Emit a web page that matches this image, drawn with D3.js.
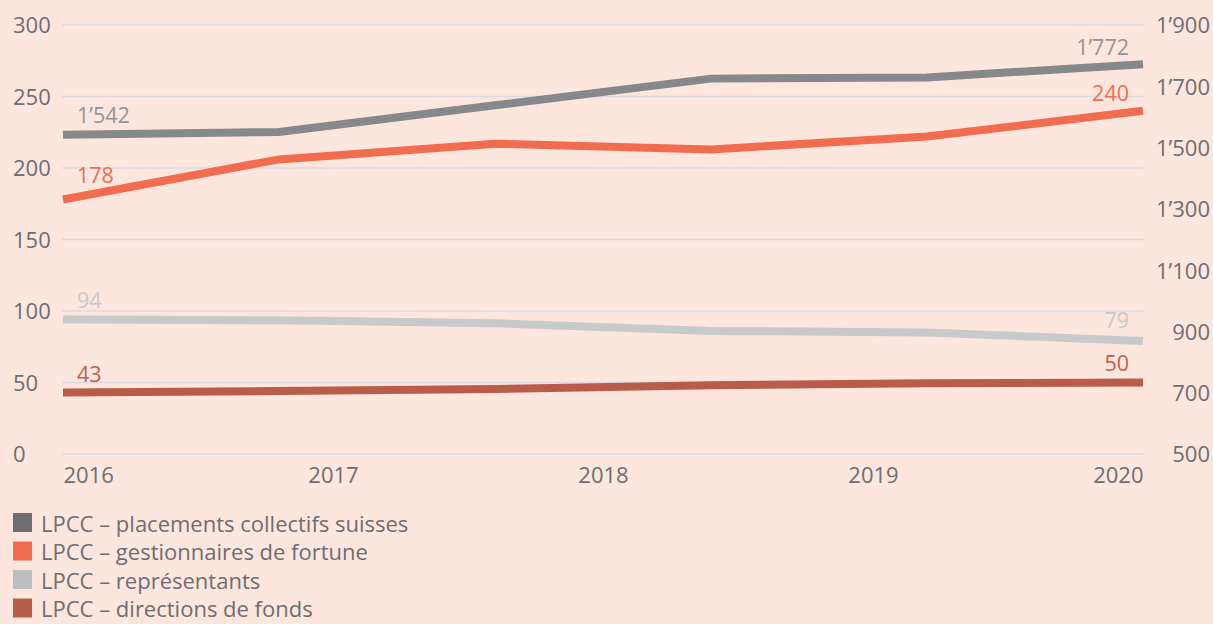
<!DOCTYPE html>
<html>
<head>
<meta charset="utf-8">
<script src="https://cdn.jsdelivr.net/npm/d3@7"></script>
<style>
  html, body { margin: 0; padding: 0; background: #fde6dd; }
  svg { display: block; }
  svg text { font-family: "Open Sans", "Noto Sans", sans-serif; font-weight: 400; }
</style>
</head>
<body>
<svg id="chart" width="1213" height="624"></svg>
<script>
// ---- data ----
const years = ["2016", "2017", "2018", "2019", "2020"];
const periods = [0, 1, 2, 3, 4, 5];
const leftTicks = [0, 50, 100, 150, 200, 250, 300];
const rightTicks = [500, 700, 900, 1100, 1300, 1500, 1700, 1900];

const placementsCollectifs = [1542, 1551, 1638, 1725, 1729, 1772]; // right axis
const gestionnaires = [178, 206, 217, 213, 222, 240];
const representants = [94, 93.5, 91.5, 86, 85, 79];
const directions = [43, 44, 45.5, 48, 49.5, 50];

const seriesNames = [
  "LPCC – placements collectifs suisses",
  "LPCC – gestionnaires de fortune",
  "LPCC – représentants",
  "LPCC – directions de fonds"
];
const lineColors = ["#87888b", "#f26c4f", "#c8c9cb", "#b95c49"];
const legendColors = ["#6d6e71", "#f26c4f", "#bcbec0", "#b95c49"];
const labelColors = ["#939598", "#f26c4f", "#c8c9cb", "#c0604c"];

// ---- layout ----
const svg = d3.select("#chart");
const x0 = 63, x1 = 1143, yTop = 25, yBot = 454;
const textColor = "#6d6e71";
const FONT = '"Open Sans", "Noto Sans", sans-serif';

const x = d3.scaleLinear().domain([0, 5]).range([x0, x1]);
const xYear = d3.scalePoint().domain(years).range([x0, x1]);
const yL = d3.scaleLinear().domain([0, 300]).range([yBot, yTop]);
const yR = d3.scaleLinear().domain([500, 1900]).range([yBot, yTop]);

const fmt = v => d3.format(",")(v).replace(/,/g, "’");

// gridlines
svg.append("g").selectAll("line").data(leftTicks).join("line")
  .attr("x1", x0 - 1).attr("x2", x1 + 1)
  .attr("y1", d => yL(d)).attr("y2", d => yL(d))
  .attr("stroke", "#dcdae0").attr("stroke-width", 1.3);

function styleAxis(g) {
  g.attr("font-family", FONT).attr("font-size", 22);
  g.select(".domain").remove();
  g.selectAll("text").attr("fill", textColor);
}

// left axis
const gl = svg.append("g").attr("transform", "translate(13,0)")
  .call(d3.axisLeft(yL).tickValues(leftTicks).tickSize(0).tickPadding(0));
styleAxis(gl);
gl.selectAll("text").attr("text-anchor", "start").attr("dy", "0.36em");

// right axis
const gr = svg.append("g").attr("transform", "translate(1210,0)")
  .call(d3.axisRight(yR).tickValues(rightTicks).tickSize(0).tickPadding(0).tickFormat(fmt));
styleAxis(gr);
gr.selectAll("text").attr("text-anchor", "end").attr("dy", "0.36em");

// bottom axis
const gb = svg.append("g").attr("transform", `translate(0,${yBot})`)
  .call(d3.axisBottom(xYear).tickSize(0).tickPadding(0));
styleAxis(gb);
gb.selectAll("text")
  .attr("y", 29).attr("dy", 0)
  .attr("text-anchor", (d, i) => i === 0 ? "start" : (i === years.length - 1 ? "end" : "middle"));

// lines
const series = [
  { vals: placementsCollectifs, y: yR },
  { vals: gestionnaires, y: yL },
  { vals: representants, y: yL },
  { vals: directions, y: yL }
];
[3, 2, 1, 0].forEach(i => {
  const s = series[i];
  const line = d3.line().x(d => x(d)).y(d => s.y(s.vals[d]));
  svg.append("path").datum(periods)
    .attr("d", line).attr("fill", "none")
    .attr("stroke", lineColors[i]).attr("stroke-width", 8)
    .attr("stroke-linejoin", "miter");
});

// value labels (first and last point of each series)
const startOffset = [12, 16, 12, 11];
const endOffset = [9, 10, 13, 12];
series.forEach((s, i) => {
  const first = s.vals[0], last = s.vals[s.vals.length - 1];
  svg.append("text")
    .attr("x", x(0) + 14).attr("y", s.y(first) - startOffset[i])
    .attr("fill", labelColors[i]).style("font-size", "21.5px")
    .text(fmt(first));
  svg.append("text")
    .attr("x", x(5) - 14).attr("y", s.y(last) - endOffset[i])
    .attr("text-anchor", "end")
    .attr("fill", labelColors[i]).style("font-size", "21.5px")
    .text(fmt(last));
});

// legend
const lg = svg.append("g").attr("transform", "translate(13,513)");
seriesNames.forEach((name, i) => {
  const g = lg.append("g").attr("transform", `translate(0,${i * 28.5})`);
  g.append("rect").attr("width", 19).attr("height", 19).attr("fill", legendColors[i]);
  g.append("text").attr("x", 28).attr("y", 18.5)
    .attr("fill", textColor).style("font-size", "22px").text(name);
});
</script>
</body>
</html>
